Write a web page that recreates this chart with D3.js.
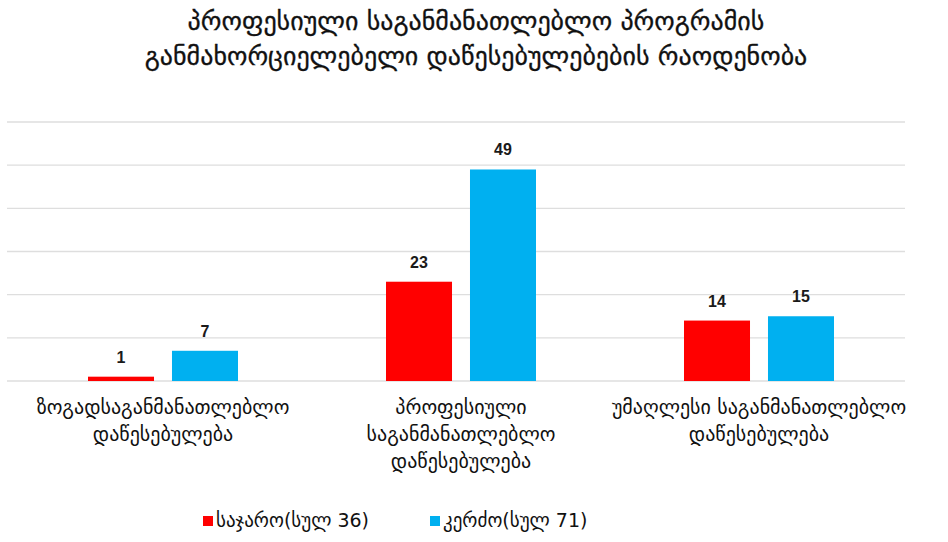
<!DOCTYPE html>
<html>
<head>
<meta charset="utf-8">
<script src="https://cdn.jsdelivr.net/npm/d3@7"></script>
<style>
  html, body { margin: 0; padding: 0; background: #fff; }
  svg { display: block; }
</style>
</head>
<body>
<svg id="chart" width="948" height="542"></svg>
<script>
// Institutions implementing vocational education programmes, by type and ownership
const titleLines = [
  "პროფესიული საგანმანათლებლო პროგრამის",
  "განმახორციელებელი დაწესებულებების რაოდენობა"
];
const categories = [
  ["ზოგადსაგანმანათლებლო", "დაწესებულება"],
  ["პროფესიული", "საგანმანათლებლო", "დაწესებულება"],
  ["უმაღლესი საგანმანათლებლო", "დაწესებულება"]
];
const seriesNames = ["საჯარო(სულ 36)", "კერძო(სულ 71)"];
const publicValues = [1, 23, 14];
const privateValues = [7, 49, 15];
const gridTicks = [0, 10, 20, 30, 40, 50, 60];

const colors = ["#ff0000", "#00b0f0"];
const geoFont = "'DejaVu Sans', sans-serif";

const svg = d3.select("#chart");

const catIdx = d3.range(categories.length);
const x0 = d3.scaleBand().domain(catIdx).range([14, 908]).padding(0);
const x1 = d3.scaleBand().domain([0, 1])
  .range([(x0.bandwidth() - 150) / 2, (x0.bandwidth() + 150) / 2])
  .paddingInner(0.214);
const y = d3.scaleLinear().domain([0, 60]).range([381, 122]);

// gridlines
svg.append("g")
  .selectAll("line")
  .data(gridTicks)
  .join("line")
  .attr("x1", 7).attr("x2", 905)
  .attr("y1", d => y(d)).attr("y2", d => y(d))
  .attr("stroke", "#dedede")
  .attr("stroke-width", 1.3);

// bars
const seriesValues = [publicValues, privateValues];
const groups = svg.append("g")
  .selectAll("g")
  .data(catIdx)
  .join("g")
  .attr("transform", i => `translate(${x0(i)},0)`);

groups.selectAll("rect")
  .data(i => seriesValues.map((vals, s) => ({ s, v: vals[i] })))
  .join("rect")
  .attr("x", d => x1(d.s))
  .attr("width", x1.bandwidth())
  .attr("y", d => y(d.v))
  .attr("height", d => y(0) - y(d.v))
  .attr("fill", d => colors[d.s]);

groups.selectAll("text.val")
  .data(i => seriesValues.map((vals, s) => ({ s, v: vals[i] })))
  .join("text")
  .attr("class", "val")
  .attr("x", d => x1(d.s) + x1.bandwidth() / 2)
  .attr("y", d => y(d.v) - 14)
  .attr("text-anchor", "middle")
  .attr("font-family", "'Liberation Sans', Arial, sans-serif")
  .attr("font-weight", "bold")
  .attr("font-size", 16)
  .attr("fill", "#1a1a1a")
  .text(d => d.v);

// category labels
const catLabels = svg.append("g")
  .selectAll("text")
  .data(catIdx)
  .join("text")
  .attr("x", i => x0(i) + x0.bandwidth() / 2)
  .attr("y", 414)
  .attr("text-anchor", "middle")
  .attr("font-family", geoFont)
  .attr("font-size", 20)
  .attr("fill", "#111");
catLabels.selectAll("tspan")
  .data(i => categories[i])
  .join("tspan")
  .attr("x", function () { return d3.select(this.parentNode).attr("x"); })
  .attr("dy", (d, k) => k === 0 ? 0 : 27)
  .text(d => d);

// title
svg.append("g")
  .selectAll("text")
  .data(titleLines)
  .join("text")
  .attr("x", 476)
  .attr("y", (d, k) => 30 + k * 35)
  .attr("text-anchor", "middle")
  .attr("font-family", geoFont)
  .attr("font-size", 26)
  .attr("fill", "#111")
  .attr("stroke", "#111")
  .attr("stroke-width", 0.3)
  .text(d => d);

// legend
const legendX = [203, 430];
const legend = svg.append("g")
  .selectAll("g")
  .data(seriesNames)
  .join("g")
  .attr("transform", (d, k) => `translate(${legendX[k]},521)`);
legend.append("rect")
  .attr("x", 0).attr("y", -5)
  .attr("width", 10).attr("height", 10)
  .attr("fill", (d, k) => colors[k]);
legend.append("text")
  .attr("x", 13).attr("y", 6)
  .attr("font-family", geoFont)
  .attr("font-size", 19)
  .attr("fill", "#111")
  .text(d => d);
</script>
</body>
</html>
